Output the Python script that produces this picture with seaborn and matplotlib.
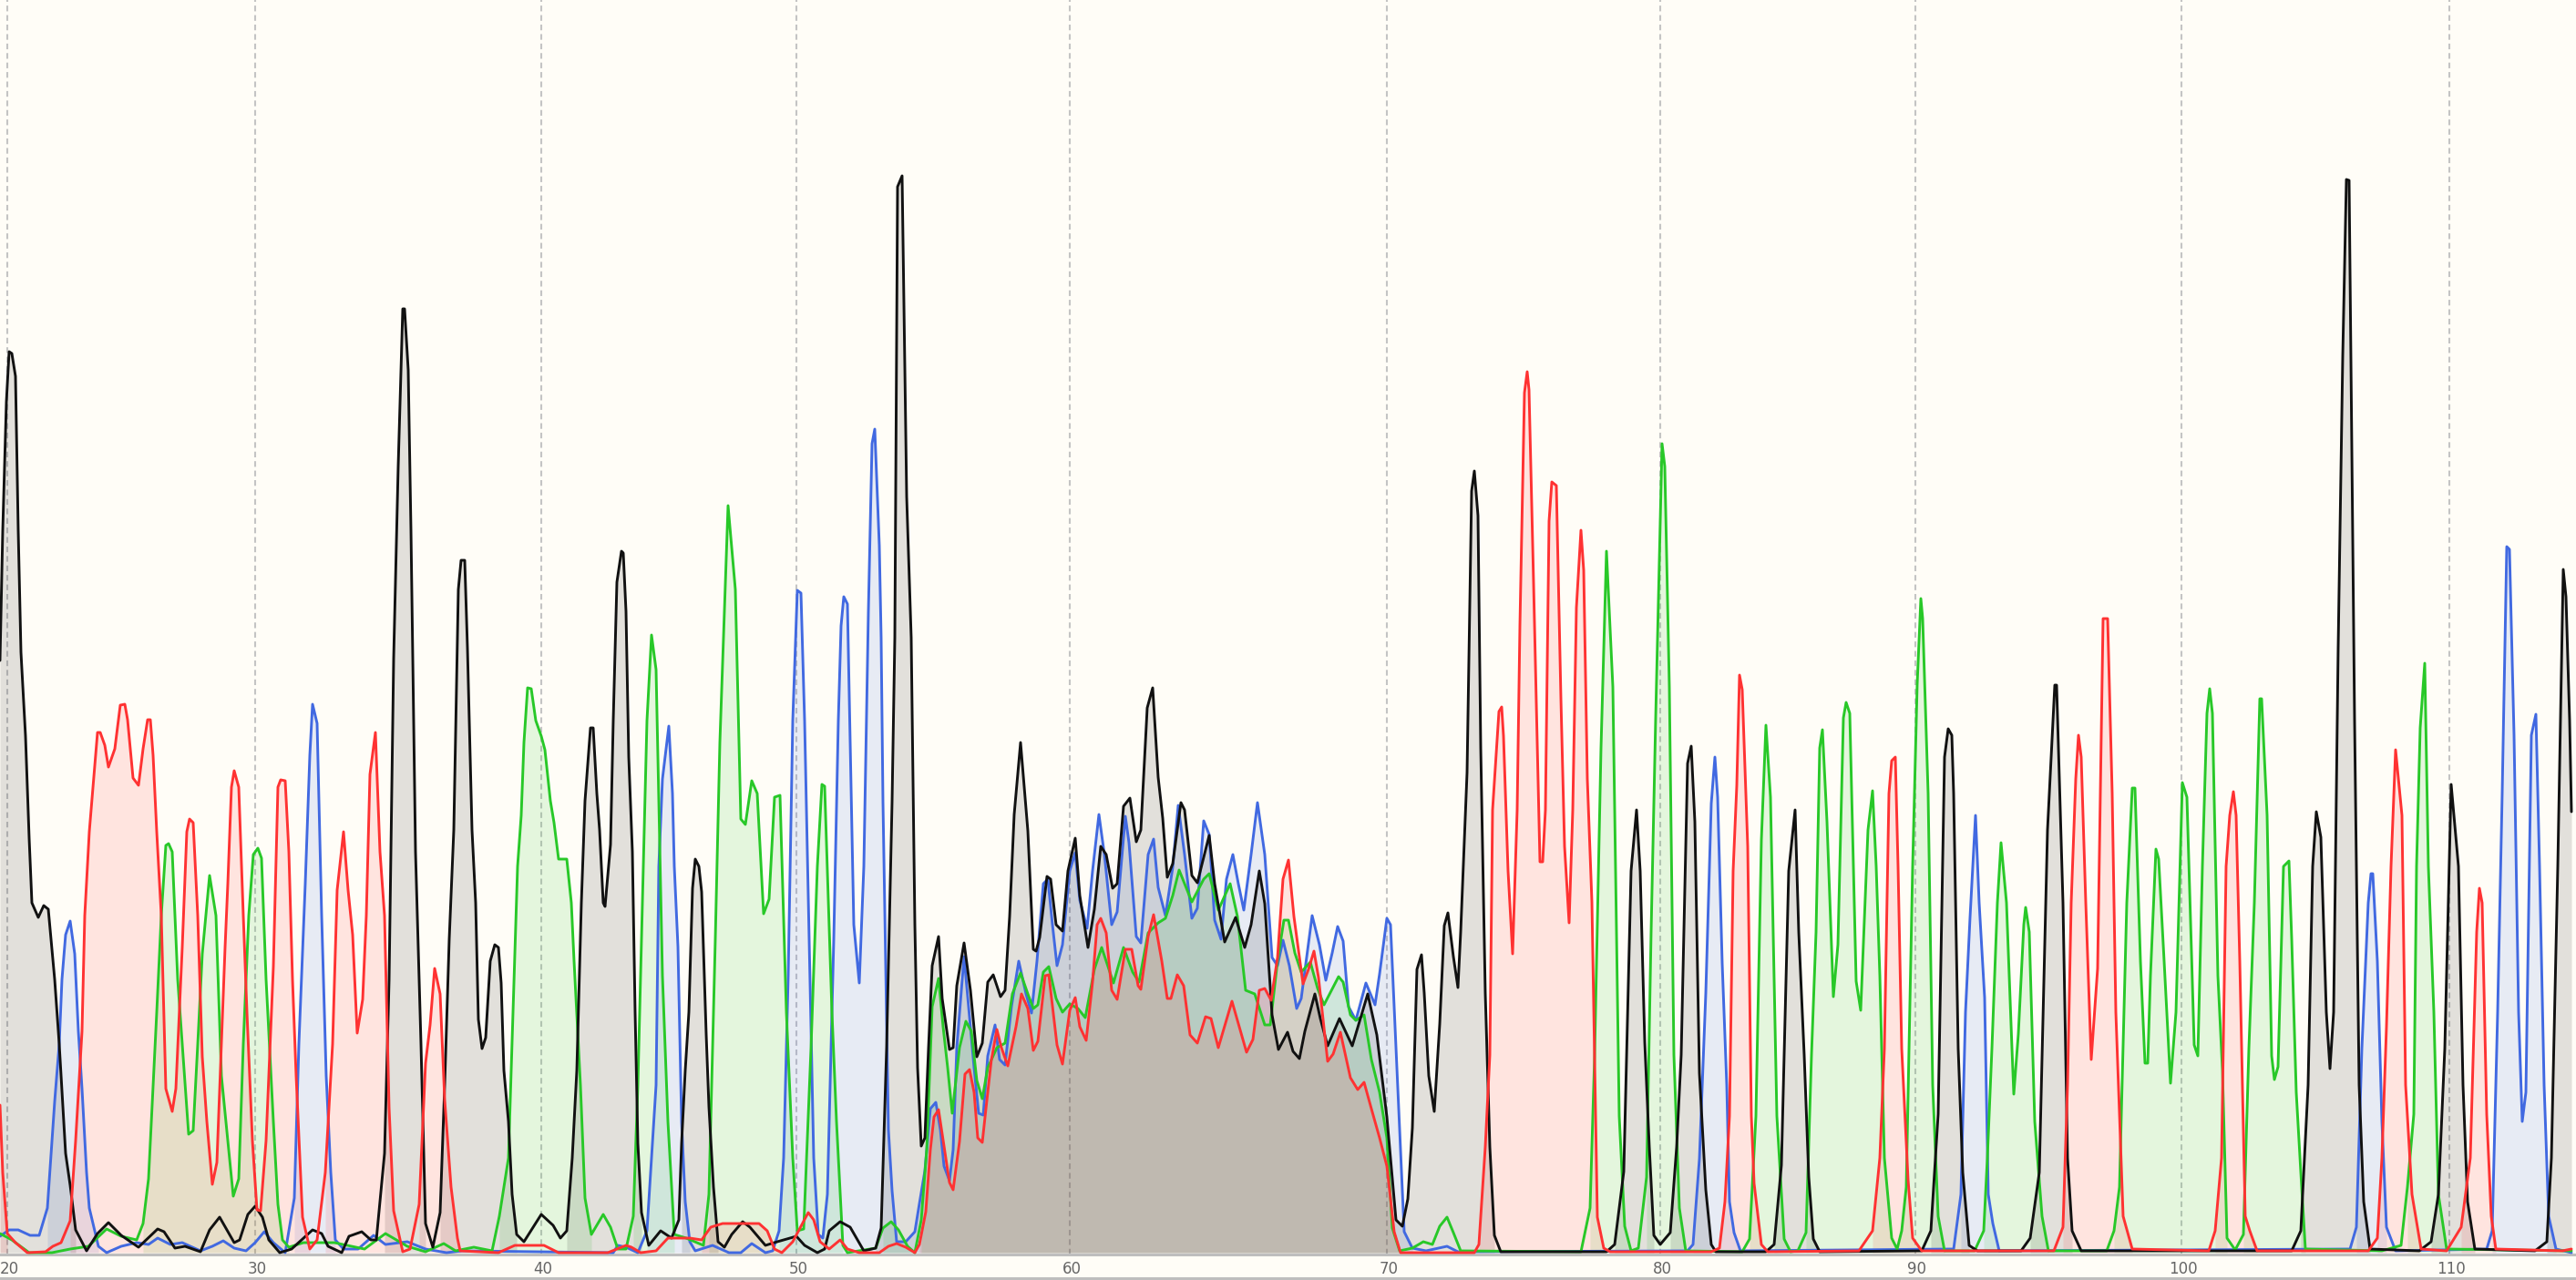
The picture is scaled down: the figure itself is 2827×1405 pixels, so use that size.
import matplotlib
matplotlib.use("Agg")
import matplotlib.pyplot as plt
from matplotlib.lines import Line2D
from matplotlib.transforms import ScaledTranslation
import numpy as np
import pandas as pd
import seaborn as sns

# base positions along the scan axis
base_ticks = [8, 280, 594, 874, 1174, 1522, 1822, 2102, 2394, 2688]
base_labels = ["20", "30", "40", "50", "60", "70", "80", "90", "100", "110"]

# (scan, signal)
black_trace = [(0,650),(3,793),(7,934),(10,989),(13,987),(17,962),(20,793),(23,659),(28,567),(32,455),(35,384),(42,368),(48,381),(53,377),
(60,300),(65,229),(72,109),(77,74),(83,25),(95,2),(107,21),(119,33),(133,19),(152,6),(173,26),(180,23),(192,5),(203,7),(220,1),(230,25),
(241,39),(257,11),(263,14),(272,42),(280,51),(288,39),(295,14),(307,0),(320,4),(343,25),(353,21),(360,7),(375,0),(383,18),(397,23),(407,14),
(413,14),(422,109),(427,299),(432,652),(437,863),(442,1036),(444,1036),(448,969),(451,793),(456,440),(462,229),(467,32),(475,6),(483,44),
(488,184),(493,344),(498,464),(503,728),(506,760),(510,760),(513,664),(518,464),(522,384),(525,256),(529,224),(533,236),(538,320),(543,338),
(547,335),(550,296),(553,200),(558,144),(562,64),(567,20),(575,12),(594,42),(607,30),(615,16),(622,24),(628,104),(633,200),(638,384),(642,496),
(648,576),(651,576),(655,504),(658,464),(662,384),(664,380),(670,448),(673,584),(677,736),(682,770),(684,768),(687,704),(690,544),(694,440),
(697,264),(700,120),(704,44),(712,8),(725,24),(737,16),(745,36),(748,120),(752,200),(756,264),(760,400),(763,432),(767,424),(770,396),(775,240),
(778,160),(783,72),(788,12),(795,6),(803,20),(815,34),(823,28),(840,8),(853,12),(874,18),(883,8),(897,0),(905,4),(910,24),(922,34),(933,28),
(948,2),(961,5),(967,27),(973,225),(979,495),(982,675),(985,1170),(990,1182),(995,830),(1000,675),(1004,360),(1007,203),(1011,117),(1015,126),
(1019,225),(1023,315),(1030,347),(1034,279),(1042,223),(1046,225),(1050,293),(1058,340),(1065,288),(1072,215),(1078,230),(1084,297),(1090,305),
(1098,281),(1103,288),(1108,369),(1113,481),(1120,560),(1128,463),(1134,333),(1137,331),(1141,346),(1149,413),(1153,410),(1159,360),(1166,353),
(1172,419),(1180,455),(1185,392),(1194,335),(1201,377),(1208,446),(1214,437),(1221,400),(1226,405),(1233,490),(1240,499),(1247,451),(1252,464),
(1259,598),(1265,620),(1271,522),(1276,477),(1281,412),(1287,427),(1296,494),(1300,486),(1308,414),(1314,406),(1327,458),(1333,405),(1344,341),
(1356,368),(1366,335),(1373,360),(1382,419),(1388,383),(1396,261),(1403,223),(1413,242),(1419,221),(1426,213),(1432,243),(1443,284),(1449,257),
(1457,227),(1470,257),(1484,227),(1501,284),(1511,239),(1522,149),(1532,36),(1539,29),(1545,59),(1550,137),(1555,311),(1560,327),(1563,285),
(1568,194),(1574,155),(1580,251),(1585,359),(1589,373),(1595,325),(1600,291),(1603,352),(1610,527),(1615,836),(1618,858),(1622,809),(1625,554),
(1630,285),(1635,116),(1640,19),(1647,1),(1763,1),(1772,9),(1782,89),(1790,419),(1796,486),(1800,419),(1805,231),(1810,116),(1815,19),(1822,9),
(1833,22),(1840,116),(1845,217),(1852,537),(1856,556),(1860,473),(1865,197),(1872,69),(1878,9),(1883,1),(1938,1),(1947,9),(1955,96),(1963,419),
(1970,486),(1974,352),(1980,217),(1985,83),(1990,15),(1997,1),(2109,2),(2119,24),(2127,152),(2134,544),(2138,575),(2142,568),(2144,504),(2149,224),
(2154,88),(2161,8),(2170,2),(2218,2),(2228,16),(2238,88),(2247,464),(2255,623),(2257,623),(2264,384),(2269,104),(2274,24),(2284,2),(2515,2),
(2525,24),(2533,184),(2538,424),(2542,484),(2547,456),(2553,264),(2557,202),(2561,264),(2566,664),(2571,984),(2575,1178),(2578,1177),(2584,584),
(2589,184),(2594,56),(2601,4),(2655,2),(2668,12),(2676,64),(2683,224),(2690,514),(2698,424),(2703,184),(2708,56),(2716,4),(2782,2),(2795,12),
(2800,104),(2807,424),(2813,750),(2816,720),(2820,584),(2822,484)]

red_trace = [(0,162),(3,88),(8,21),(17,11),(30,0),(50,1),(58,7),(67,11),(77,35),(83,123),(90,243),(93,370),(98,462),(102,511),(107,571),(110,571),
(115,557),(119,533),(126,553),(132,601),(137,602),(140,585),(146,521),(152,513),(157,553),(162,585),(165,585),(168,546),(172,462),(177,370),(182,180),
(189,155),(193,180),(200,335),(205,462),(208,476),(212,472),(217,370),(222,215),(227,144),(233,75),(238,99),(243,229),(247,335),(250,405),(254,511),
(257,529),(262,511),(267,370),(271,264),(277,123),(282,47),(286,46),(292,123),(300,314),(305,511),(308,519),(313,518),(317,440),(321,300),(325,194),
(332,39),(340,4),(348,14),(357,88),(365,229),(370,398),(377,462),(382,398),(387,349),(392,241),(398,278),(402,370),(406,525),(412,571),(417,440),
(422,370),(427,159),(432,46),(442,1),(450,4),(460,53),(467,208),(472,250),(477,312),(483,284),(488,168),(495,72),(502,16),(505,2),(547,0),(565,8),
(597,8),(613,0),(667,0),(687,8),(693,6),(703,0),(720,2),(733,16),(757,16),(770,14),(780,28),(793,32),(833,32),(842,24),(850,4),(858,0),(870,12),
(887,44),(893,36),(900,12),(910,4),(922,14),(930,4),(943,0),(965,0),(975,7),(984,10),(994,6),(1004,0),(1009,9),(1016,45),(1021,113),(1025,149),
(1030,157),(1036,117),(1042,77),(1046,69),(1053,122),(1059,196),(1064,201),(1069,176),(1073,126),(1078,121),(1082,158),(1088,212),(1094,245),
(1099,225),(1106,205),(1115,248),(1121,284),(1128,268),(1134,222),(1139,232),(1147,304),(1151,305),(1160,228),(1166,207),(1174,266),(1180,280),
(1185,248),(1192,233),(1199,297),(1204,360),(1208,367),(1214,351),(1220,288),(1226,278),(1235,333),(1242,333),(1249,293),(1252,289),(1260,347),
(1266,371),(1275,320),(1281,279),(1285,279),(1292,305),(1299,293),(1306,239),(1314,230),(1323,259),(1329,257),(1337,225),(1352,276),(1368,220),
(1375,234),(1382,288),(1388,290),(1395,277),(1402,324),(1408,410),(1414,431),(1420,369),(1430,295),(1436,311),(1442,331),(1447,302),(1457,210),
(1463,218),(1471,242),(1482,192),(1490,179),(1497,187),(1505,158),(1514,126),(1522,95),(1530,23),(1537,0),(1618,0),(1623,9),(1630,116),(1635,217),
(1638,486),(1642,547),(1645,594),(1648,599),(1650,567),(1655,419),(1660,328),(1665,486),(1668,688),(1673,944),(1676,967),(1678,947),(1683,735),
(1690,429),(1693,429),(1696,486),(1700,803),(1703,846),(1708,842),(1713,608),(1717,446),(1722,362),(1726,486),(1730,708),(1735,793),(1738,749),
(1742,520),(1747,385),(1753,39),(1760,5),(1767,1),(1878,1),(1887,5),(1893,56),(1898,150),(1902,419),(1906,513),(1909,634),(1912,618),(1918,446),
(1922,150),(1925,76),(1933,9),(1940,1),(2040,2),(2055,24),(2063,104),(2068,224),(2073,504),(2076,540),(2080,544),(2083,424),(2087,224),(2094,80),
(2099,16),(2109,2),(2254,2),(2264,28),(2269,184),(2273,384),(2278,520),(2281,568),(2284,544),(2289,384),(2295,212),(2302,312),(2308,696),(2313,696),
(2318,504),(2322,264),(2330,40),(2340,4),(2424,2),(2431,24),(2438,104),(2443,424),(2447,480),(2451,506),(2454,480),(2458,320),(2464,40),(2469,24),
(2477,2),(2599,2),(2609,16),(2614,104),(2619,248),(2624,424),(2629,552),(2636,480),(2640,184),(2647,64),(2657,4),(2685,2),(2701,28),(2711,104),
(2718,352),(2721,400),(2724,384),(2729,152),(2734,40),(2739,4),(2812,2),(2822,4)]

green_trace = [(0,21),(13,14),(32,0),(57,0),(77,4),(97,7),(117,26),(133,18),(150,14),(157,32),(163,81),(172,264),(177,370),(182,447),(185,449),(189,440),
(195,300),(202,201),(207,130),(212,134),(217,229),(222,328),(230,414),(237,370),(243,194),(250,123),(256,62),(262,81),(267,229),(273,370),(278,437),
(283,444),(287,433),(292,300),(300,144),(305,53),(310,14),(317,6),(333,11),(367,11),(400,4),(423,21),(447,7),(467,1),(487,10),(500,2),(520,6),(540,2),
(548,40),(558,104),(563,264),(568,424),(572,480),(575,560),(579,620),(583,619),(588,584),(594,567),(598,552),(604,496),(608,472),(613,432),(622,432),
(627,384),(630,320),(637,184),(642,60),(649,20),(662,42),(670,28),(678,4),(687,4),(695,40),(700,184),(705,384),(710,584),(715,678),(720,640),(727,304),
(733,144),(740,20),(753,16),(772,8),(778,64),(785,344),(790,560),(795,704),(799,820),(807,728),(813,476),(818,470),(825,518),(831,504),(838,372),
(844,388),(850,500),(856,502),(863,264),(870,104),(875,24),(882,26),(890,224),(897,424),(902,514),(905,512),(913,264),(918,144),(925,8),(930,0),
(961,5),(969,27),(978,34),(986,25),(996,7),(1004,0),(1011,36),(1017,113),(1023,270),(1030,301),(1035,248),(1040,203),(1045,153),(1053,225),(1060,254),
(1066,243),(1072,189),(1078,169),(1084,203),(1094,225),(1103,230),(1111,284),(1120,307),(1128,284),(1134,268),(1139,272),(1145,308),(1151,314),
(1159,279),(1166,264),(1174,273),(1183,268),(1191,258),(1201,311),(1209,335),(1222,296),(1233,335),(1243,308),(1250,297),(1260,351),(1271,362),
(1279,367),(1287,392),(1294,420),(1308,385),(1321,410),(1327,416),(1337,376),(1350,405),(1358,369),(1367,288),(1377,284),(1388,250),(1394,250),
(1402,320),(1409,365),(1414,365),(1421,329),(1428,308),(1438,319),(1446,290),(1453,272),(1469,303),(1474,297),(1482,261),(1488,255),(1497,261),
(1505,212),(1514,176),(1522,126),(1528,27),(1536,2),(1550,5),(1562,12),(1572,9),(1580,29),(1588,39),(1595,22),(1603,2),(1735,1),(1745,49),(1750,217),
(1757,554),(1763,770),(1770,621),(1777,150),(1783,29),(1790,2),(1798,5),(1807,83),(1812,352),(1817,587),(1824,888),(1827,863),(1832,621),(1837,217),
(1843,49),(1850,2),(1912,1),(1920,15),(1927,150),(1933,453),(1938,579),(1943,500),(1950,150),(1958,15),(1965,1),(1973,2),(1982,22),(1988,217),
(1993,352),(1997,554),(2000,574),(2005,473),(2012,281),(2017,338),(2023,587),(2026,604),(2030,592),(2037,298),(2042,266),(2050,464),(2055,507),
(2059,424),(2063,304),(2068,104),(2076,16),(2082,4),(2087,24),(2092,72),(2099,424),(2104,624),(2108,718),(2110,696),(2116,504),(2121,184),(2127,40),
(2134,2),(2167,2),(2177,24),(2181,104),(2186,224),(2192,384),(2196,450),(2202,384),(2208,224),(2210,174),(2215,240),(2221,360),(2223,379),(2227,352),
(2233,144),(2241,40),(2248,2),(2312,2),(2320,24),(2326,72),(2334,384),(2340,510),(2343,510),(2349,320),(2354,208),(2357,208),(2360,304),(2366,443),
(2369,432),(2375,320),(2382,186),(2388,264),(2395,516),(2400,500),(2408,228),(2412,216),(2417,424),(2422,592),(2425,619),(2428,592),(2434,304),
(2439,200),(2444,16),(2453,3),(2462,20),(2468,224),(2474,384),(2480,608),(2482,608),(2488,480),(2493,216),(2496,190),(2500,204),(2506,424),(2512,430),
(2515,344),(2520,176),(2525,88),(2530,4),(2614,2),(2635,8),(2642,72),(2649,152),(2652,424),(2656,576),(2661,647),(2665,424),(2671,264),(2676,64),
(2685,4),(2822,2)]

blue_trace = [(0,18),(10,25),(20,25),(33,19),(43,19),(52,49),(57,123),(60,166),(65,229),(68,300),(72,349),(77,364),(82,328),(86,243),(90,180),(95,88),
(98,49),(108,7),(117,0),(133,7),(150,11),(163,9),(173,16),(187,9),(200,11),(220,2),(233,7),(245,13),(257,5),(270,2),(280,11),(290,23),(300,11),(313,0),
(323,60),(328,229),(335,405),(340,546),(343,602),(348,581),(353,370),(358,194),(363,88),(368,14),(377,4),(393,4),(410,19),(423,9),(447,12),(467,4),
(490,0),(507,2),(673,0),(678,8),(687,6),(700,0),(710,24),(715,104),(720,184),(723,424),(727,520),(734,578),(738,504),(740,424),(744,336),(748,144),
(752,56),(757,12),(763,2),(782,8),(800,0),(813,0),(825,10),(840,0),(848,2),(855,24),(860,104),(865,304),(870,584),(875,727),(879,724),(883,584),
(888,344),(893,104),(898,20),(903,16),(908,64),(915,344),(920,584),(923,688),(926,720),(930,712),(937,360),(943,296),(948,424),(953,704),(957,888),
(960,904),(965,776),(967,675),(969,495),(975,135),(979,68),(984,12),(994,12),(1004,23),(1009,54),(1015,90),(1021,158),(1027,165),(1032,135),(1036,95),
(1042,79),(1046,113),(1050,225),(1058,325),(1063,270),(1069,203),(1074,153),(1079,151),(1084,216),(1092,250),(1097,212),(1103,206),(1110,270),(1118,320),
(1126,284),(1132,263),(1138,320),(1145,405),(1150,410),(1155,360),(1160,315),(1166,338),(1174,419),(1180,439),(1185,387),(1193,356),(1199,419),(1206,481),
(1212,437),(1220,360),(1226,374),(1235,479),(1239,450),(1247,347),(1252,340),(1260,437),(1266,454),(1271,401),(1279,370),(1287,423),(1293,491),(1300,437),
(1308,367),(1314,378),(1321,474),(1327,459),(1333,365),(1340,344),(1346,410),(1353,437),(1359,405),(1365,376),(1373,437),(1380,494),(1388,437),(1396,324),
(1402,315),(1408,343),(1415,315),(1423,268),(1428,279),(1440,370),(1448,338),(1455,299),(1462,329),(1468,358),(1474,342),(1480,270),(1488,255),(1499,296),
(1509,272),(1514,306),(1522,367),(1526,360),(1532,225),(1541,23),(1550,5),(1565,2),(1588,7),(1600,1),(1852,2),(1858,9),(1865,103),(1872,285),(1878,493),
(1882,544),(1885,500),(1890,318),(1895,184),(1898,56),(1903,22),(1910,2),(2144,4),(2152,64),(2157,264),(2162,368),(2168,480),(2172,384),(2178,280),
(2182,64),(2187,32),(2194,2),(2579,4),(2586,28),(2592,224),(2599,384),(2602,416),(2604,416),(2609,320),(2614,144),(2619,28),(2629,2),(2729,4),(2735,24),
(2741,264),(2746,504),(2751,775),(2754,772),(2759,568),(2764,264),(2768,144),(2772,176),(2778,568),(2783,591),(2787,424),(2792,184),(2797,40),(2805,4),
(2822,0)]

# called-base stretches that get shaded under the trace
black_spans = [(0,83),(422,470),(483,567),(622,704),(748,788),(961,1640),(1772,1815),(1833,1878),(1947,1997),(2119,2161),(2228,2274),(2525,2601),(2668,2716),(2795,2822)]
red_spans = [(0,8),(77,340),(357,442),(460,505),(770,858),(1009,1537),(1623,1760),(1887,1933),(2055,2109),(2264,2340),(2431,2477),(2609,2657),(2701,2739)]
green_spans = [(157,317),(548,649),(695,740),(778,925),(969,1004),(1011,1536),(1745,1790),(1807,1850),(1920,1965),(1982,2134),(2177,2248),(2320,2444),(2462,2530),(2642,2685)]
blue_spans = [(52,108),(323,368),(710,757),(855,1550),(1858,1910),(2152,2194),(2586,2619),(2735,2805)]

channels = [
    ("blue", blue_trace, blue_spans, "#4169E1"),
    ("green", green_trace, green_spans, "#28C828"),
    ("black", black_trace, black_spans, "#111111"),
    ("red", red_trace, red_spans, "#FF3232"),
]

paper = "#FFFDF7"
sns.set_style("white", {"axes.facecolor": paper, "figure.facecolor": paper})

fig = plt.figure(figsize=(28.27, 14.05), dpi=100)
ax = fig.add_axes([0, 28 / 1405, 1, 1377 / 1405])

# grid first so the traces sit on top of it
for t in base_ticks:
    ax.axvline(t, color="#C4C4C4", lw=1.5, ls=(0, (3, 2)), zorder=1)

# fills go down before any line
for name, trace, spans, col in channels:
    df = pd.DataFrame(trace, columns=["scan", "signal"])
    for a, b in spans:
        part = df[(df.scan >= a) & (df.scan <= b)]
        ax.fill_between(part.scan, part.signal, 0, color=col, alpha=0.12, lw=0, zorder=2)

for name, trace, spans, col in channels:
    df = pd.DataFrame(trace, columns=["scan", "signal"])
    sns.lineplot(data=df, x="scan", y="signal", color=col, lw=2.1, estimator=None, ax=ax, zorder=3)

ax.set_xlim(0, 2827)
ax.set_ylim(-2, 1375)
ax.set_xlabel("")
ax.set_ylabel("")
ax.set_yticks([])
ax.set_xticks(base_ticks)
ax.set_xticklabels(base_labels, color="#666666", fontsize=12)
ax.tick_params(axis="x", length=0, pad=5)
for lab in ax.get_xticklabels():
    lab.set_transform(lab.get_transform() + ScaledTranslation(0.02, 0, fig.dpi_scale_trans))

for side in ["top", "left", "right"]:
    ax.spines[side].set_visible(False)
ax.spines["bottom"].set_color("#BEBEBE")
ax.spines["bottom"].set_linewidth(2.2)

fig.add_artist(Line2D([0, 1], [2 / 1405, 2 / 1405], color="#BEBEBE", lw=2.2))

fig.savefig("out.png", dpi=100)
